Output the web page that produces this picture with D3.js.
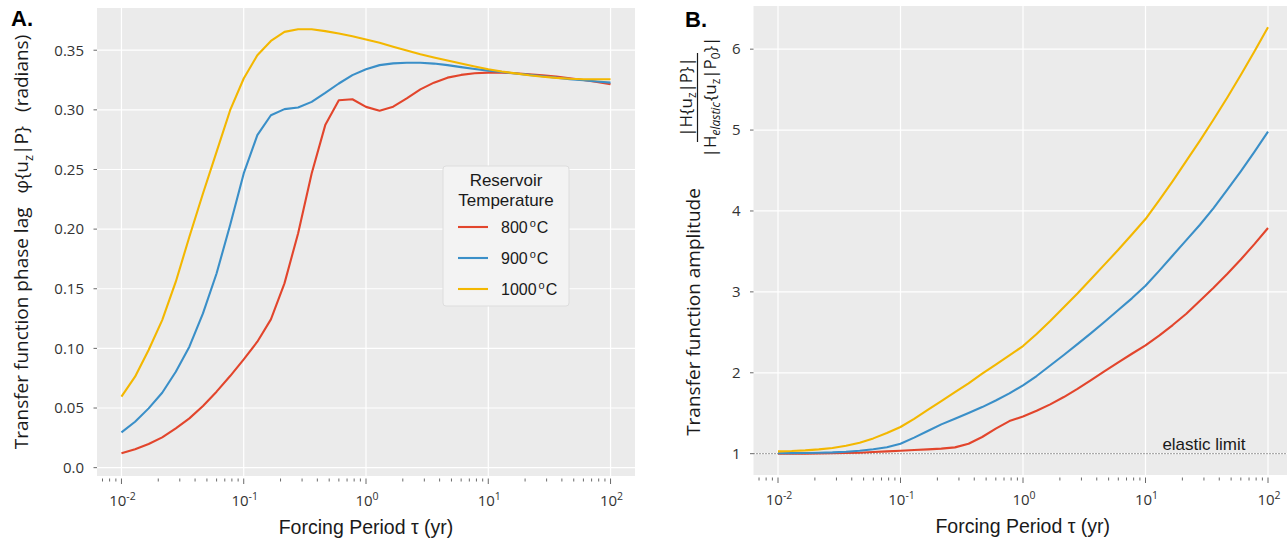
<!DOCTYPE html>
<html><head><meta charset="utf-8">
<script src="https://cdn.jsdelivr.net/npm/d3@7"></script>
<style>body{margin:0;background:#fff;} svg{display:block;}</style>
</head><body><svg id="c" width="1287" height="545"></svg>
<script>
// ---------------- data ----------------
const periods = [0.01,0.01292,0.01668,0.02154,0.02783,0.03594,0.04642,0.05995,0.07743,
  0.1,0.1292,0.1668,0.2154,0.2783,0.3594,0.4642,0.5995,0.7743,
  1,1.292,1.668,2.154,2.783,3.594,4.642,5.995,7.743,
  10,12.92,16.68,21.54,27.83,35.94,46.42,59.95,77.43,100];

const seriesNames = ["800", "900", "1000"];
const seriesColors = ["#E2452C", "#3A8FC8", "#F3B700"];

const phase800 = [0.012,0.0154,0.0198,0.0254,0.033,0.0413,0.0517,0.0637,0.0768,
  0.0908,0.1056,0.1243,0.1545,0.1964,0.2466,0.2872,0.3081,0.3089,
  0.3025,0.2993,0.3027,0.3097,0.3172,0.3228,0.327,0.3293,0.3307,
  0.3312,0.3312,0.3307,0.3298,0.329,0.3279,0.3265,0.325,0.3234,0.3214];
const phase900 = [0.0296,0.0385,0.0497,0.0628,0.0804,0.1014,0.1293,0.1628,0.2034,
  0.2467,0.2788,0.2955,0.3006,0.302,0.3067,0.3142,0.3221,0.3291,
  0.334,0.3375,0.339,0.3395,0.3395,0.3388,0.3375,0.3358,0.3343,
  0.3329,0.3317,0.3305,0.3293,0.3282,0.327,0.3258,0.3248,0.3238,0.3228];
const phase1000 = [0.0595,0.0763,0.0986,0.1237,0.1559,0.1936,0.2299,0.2648,0.2997,
  0.3263,0.3458,0.3578,0.3654,0.3676,0.3676,0.366,0.364,0.3617,
  0.359,0.3562,0.353,0.3498,0.3466,0.3439,0.3413,0.3388,0.3363,
  0.334,0.3321,0.3306,0.329,0.3278,0.3268,0.3261,0.3257,0.3256,0.3256];

const amp800 = [1.0,1.0,1.001,1.003,1.005,1.008,1.012,1.02,1.029,
  1.037,1.045,1.053,1.062,1.078,1.123,1.206,1.309,1.403,
  1.46,1.53,1.61,1.70,1.80,1.91,2.02,2.13,2.235,
  2.34,2.46,2.59,2.73,2.89,3.05,3.22,3.40,3.59,3.79];
const amp900 = [1.006,1.007,1.009,1.012,1.016,1.024,1.036,1.054,1.08,
  1.123,1.198,1.28,1.362,1.432,1.502,1.576,1.658,1.745,
  1.845,1.96,2.09,2.22,2.355,2.49,2.63,2.775,2.92,
  3.075,3.26,3.45,3.64,3.83,4.035,4.26,4.49,4.73,4.98];
const amp1000 = [1.029,1.033,1.041,1.053,1.07,1.099,1.136,1.189,1.255,
  1.33,1.43,1.54,1.65,1.76,1.87,1.99,2.10,2.215,
  2.33,2.48,2.64,2.81,2.98,3.16,3.34,3.52,3.71,
  3.90,4.13,4.37,4.62,4.87,5.13,5.40,5.68,5.97,6.27];

const phaseSeries = [phase800, phase900, phase1000];
const ampSeries = [amp800, amp900, amp1000];

const xTicks = [0.01, 0.1, 1, 10, 100];
const xTickExps = ["-2", "-1", "0", "1", "2"];
const phaseTicks = [0, 0.05, 0.10, 0.15, 0.20, 0.25, 0.30, 0.35];
const phaseTickLabels = ["0.0", "0.05", "0.10", "0.15", "0.20", "0.25", "0.30", "0.35"];
const ampTicks = [1, 2, 3, 4, 5, 6];
const ampTickLabels = ["1", "2", "3", "4", "5", "6"];
const elasticLimit = 1;
const elasticLabel = {x: 30, y: 1.04, text: "elastic limit"};
const legendTitle = ["Reservoir", "Temperature"];

// ---------------- drawing ----------------
const svg = d3.select("#c");
const TICKF = "'Open Sans', 'Noto Sans', sans-serif";
const TITLEF = "'Liberation Sans', Arial, Helvetica, sans-serif";
const PANEL_BG = "#EBEBEB";

const xDomain = [Math.pow(10, -2.2), Math.pow(10, 2.2)];

function drawPanel(opts) {
  const {left, right, top, bottom, yDomain, yTicks, yTickLabels, data} = opts;
  const x = d3.scaleLog().domain(xDomain).range([left, right]);
  const y = d3.scaleLinear().domain(yDomain).range([bottom, top]);
  const g = svg.append("g");
  g.append("rect").attr("x", left).attr("y", top).attr("width", right - left)
    .attr("height", bottom - top).attr("fill", PANEL_BG);
  // grid
  g.selectAll(".gy").data(yTicks).enter().append("line")
    .attr("x1", left).attr("x2", right).attr("y1", d => y(d)).attr("y2", d => y(d))
    .attr("stroke", "#fff").attr("stroke-width", 1.2);
  g.selectAll(".gx").data(xTicks).enter().append("line")
    .attr("y1", top).attr("y2", bottom).attr("x1", d => x(d)).attr("x2", d => x(d))
    .attr("stroke", "#fff").attr("stroke-width", 1.2);
  // y ticks and labels
  g.selectAll(".ty").data(yTicks).enter().append("line")
    .attr("x1", left - 3.5).attr("x2", left).attr("y1", d => y(d)).attr("y2", d => y(d))
    .attr("stroke", "#444").attr("stroke-width", 0.8);
  g.selectAll(".ly").data(yTicks).enter().append("text")
    .attr("x", left - 13).attr("y", d => y(d) + 5.3)
    .attr("text-anchor", "end").attr("font-family", TICKF).attr("font-size", 15)
    .attr("fill", "#333").text((d, i) => yTickLabels[i]);
  // log ticks below axis
  const minor = [];
  for (let k = -3; k <= 2; k++) for (let m = 2; m <= 9; m++) {
    const v = m * Math.pow(10, k);
    if (v >= xDomain[0] && v <= xDomain[1]) minor.push(v);
  }
  g.selectAll(".mt").data(minor).enter().append("line")
    .attr("x1", d => x(d)).attr("x2", d => x(d)).attr("y1", bottom + 2.5).attr("y2", bottom + 5.5)
    .attr("stroke", "#444").attr("stroke-width", 0.8);
  g.selectAll(".Mt").data(xTicks).enter().append("line")
    .attr("x1", d => x(d)).attr("x2", d => x(d)).attr("y1", bottom + 2.5).attr("y2", bottom + 8)
    .attr("stroke", "#444").attr("stroke-width", 0.8);
  const xl = g.selectAll(".lx").data(xTicks).enter().append("text")
    .attr("x", d => x(d) + 1).attr("y", bottom + 30)
    .attr("text-anchor", "middle").attr("font-family", TICKF).attr("font-size", 15).attr("fill", "#333");
  xl.append("tspan").text("10");
  xl.append("tspan").attr("font-size", 10.5).attr("dy", -6.5).text((d, i) => xTickExps[i]);
  // x title
  g.append("text").attr("x", (left + Math.min(right, 1287 + 5)) / 2).attr("y", bottom + 58)
    .attr("text-anchor", "middle").attr("font-family", TITLEF).attr("font-size", 19.5)
    .attr("fill", "#1a1a1a").text("Forcing Period \u03C4 (yr)");
  return {x, y, g};
}

function drawLines(p, series) {
  const line = d3.line().x((d, i) => p.x(periods[i])).y(d => p.y(d));
  series.forEach((s, k) => {
    p.g.append("path").datum(s).attr("d", line).attr("fill", "none")
      .attr("stroke", seriesColors[k]).attr("stroke-width", 2.1)
      .attr("stroke-linejoin", "round").attr("stroke-linecap", "butt");
  });
}

// ---------- Panel A ----------
const A = drawPanel({left: 97, right: 635, top: 8, bottom: 476,
  yDomain: [-0.007, 0.3854], yTicks: phaseTicks, yTickLabels: phaseTickLabels});
drawLines(A, phaseSeries);

// y title A
const ta = svg.append("text").attr("transform", "translate(28,242) rotate(-90)")
  .attr("text-anchor", "middle").attr("font-family", TICKF).attr("font-size", 19).attr("fill", "#1a1a1a");
ta.append("tspan").text("Transfer function phase lag");
ta.append("tspan").attr("dx", 14).text("\u03C6{u");
ta.append("tspan").attr("font-size", 13).attr("dy", 5).text("z");
ta.append("tspan").attr("dy", -5).text("|P}");
ta.append("tspan").attr("dx", 14).text("(radians)");

// legend
const lg = svg.append("g");
lg.append("rect").attr("x", 443).attr("y", 166).attr("width", 126).attr("height", 140)
  .attr("rx", 3).attr("fill", "#F3F3F3").attr("stroke", "#DDDDDD").attr("stroke-width", 1);
legendTitle.forEach((t, i) => {
  lg.append("text").attr("x", 506).attr("y", 186 + i * 20).attr("text-anchor", "middle")
    .attr("font-family", TITLEF).attr("font-size", 17).attr("fill", "#1a1a1a").text(t);
});
seriesNames.forEach((n, i) => {
  const yy = 227 + i * 31;
  lg.append("line").attr("x1", 458).attr("x2", 488).attr("y1", yy).attr("y2", yy)
    .attr("stroke", seriesColors[i]).attr("stroke-width", 2.1);
  const t = lg.append("text").attr("x", 501).attr("y", yy + 6)
    .attr("font-family", TITLEF).attr("font-size", 16).attr("fill", "#1a1a1a");
  t.append("tspan").text(n);
  t.append("tspan").attr("dx", 2).attr("dy", -6).attr("font-size", 11).text("o");
  t.append("tspan").attr("dx", 1).attr("dy", 6).text("C");
});

// panel label
svg.append("text").attr("x", 11).attr("y", 26).attr("font-family", TITLEF)
  .attr("font-weight", "bold").attr("font-size", 22).attr("fill", "#000").text("A.");

// ---------- Panel B ----------
const B = drawPanel({left: 753.5, right: 1292.5, top: 6, bottom: 475,
  yDomain: [0.7365, 6.5335], yTicks: ampTicks, yTickLabels: ampTickLabels});
// elastic limit line
B.g.append("line").attr("x1", 753.5).attr("x2", 1292.5)
  .attr("y1", B.y(elasticLimit)).attr("y2", B.y(elasticLimit))
  .attr("stroke", "#333").attr("stroke-width", 1).attr("stroke-dasharray", "1,2");
drawLines(B, ampSeries);
B.g.append("text").attr("x", B.x(elasticLabel.x)).attr("y", B.y(elasticLabel.y))
  .attr("text-anchor", "middle").attr("font-family", TITLEF).attr("font-size", 17)
  .attr("fill", "#1a1a1a").text(elasticLabel.text);

svg.append("text").attr("x", 685).attr("y", 27).attr("font-family", TITLEF)
  .attr("font-weight", "bold").attr("font-size", 22).attr("fill", "#000").text("B.");

// y title B
svg.append("text").attr("transform", "translate(700,312) rotate(-90)")
  .attr("text-anchor", "middle").attr("font-family", TICKF).attr("font-size", 19)
  .attr("fill", "#1a1a1a").text("Transfer function amplitude");
const num = svg.append("text").attr("transform", "translate(692,97) rotate(-90)")
  .attr("text-anchor", "middle").attr("font-family", TICKF).attr("font-size", 17).attr("fill", "#1a1a1a");
num.append("tspan").text("|H{u");
num.append("tspan").attr("font-size", 12).attr("dy", 4).text("z");
num.append("tspan").attr("dy", -4).text("|P}|");
svg.append("line").attr("x1", 697.5).attr("x2", 697.5).attr("y1", 53).attr("y2", 142)
  .attr("stroke", "#1a1a1a").attr("stroke-width", 1.2);
const den = svg.append("text").attr("transform", "translate(716,97) rotate(-90)")
  .attr("text-anchor", "middle").attr("font-family", TICKF).attr("font-size", 17).attr("fill", "#1a1a1a");
den.append("tspan").text("|H");
den.append("tspan").attr("font-size", 12).attr("font-style", "italic").attr("dy", 4).text("elastic");
den.append("tspan").attr("dy", -4).attr("dx", 1).text("{u");
den.append("tspan").attr("font-size", 12).attr("dy", 4).text("z");
den.append("tspan").attr("dy", -4).text("|P");
den.append("tspan").attr("font-size", 12).attr("dy", 4).text("0");
den.append("tspan").attr("dy", -4).text("}|");
</script></body></html>
